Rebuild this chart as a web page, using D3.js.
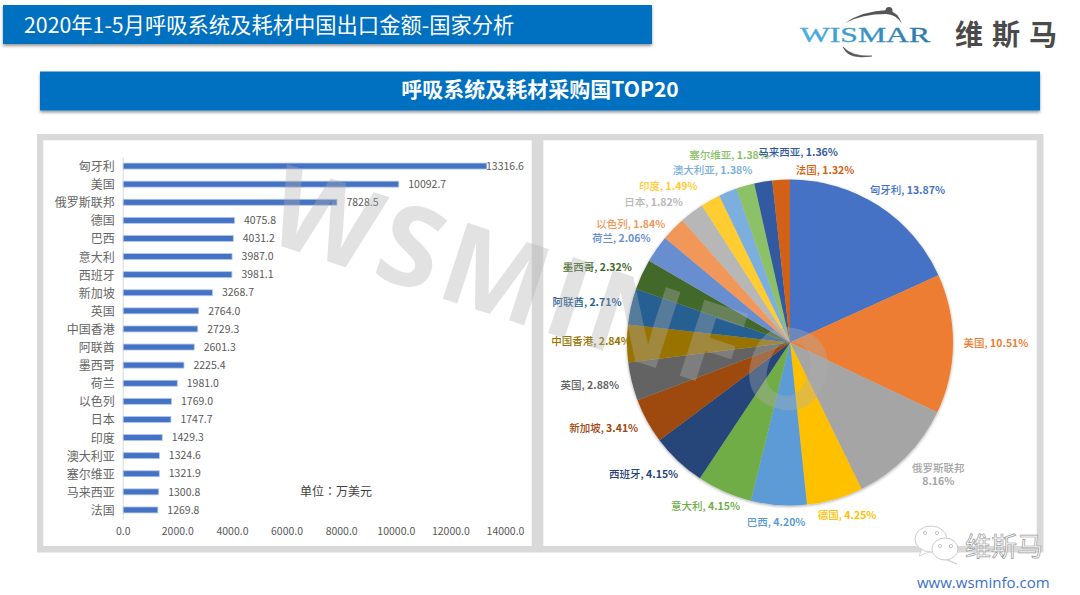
<!DOCTYPE html>
<html><head><meta charset="utf-8">
<script src="https://cdn.jsdelivr.net/npm/d3@7/dist/d3.min.js"></script>
<style>html,body{margin:0;padding:0;background:#fff;overflow:hidden}svg{display:block}text{font-family:"Noto Sans CJK SC","Noto Sans",sans-serif}</style>
</head><body><svg id="c" width="1080" height="595"></svg>
<script>
const categories = ["匈牙利","美国","俄罗斯联邦","德国","巴西","意大利","西班牙","新加坡","英国","中国香港","阿联酋","墨西哥","荷兰","以色列","日本","印度","澳大利亚","塞尔维亚","马来西亚","法国"];
const values = [13316.6,10092.7,7828.5,4075.8,4031.2,3987.0,3981.1,3268.7,2764.0,2729.3,2601.3,2225.4,1981.0,1769.0,1747.7,1429.3,1324.6,1321.9,1300.8,1269.8];
const shares = ["13.87%","10.51%","8.16%","4.25%","4.20%","4.15%","4.15%","3.41%","2.88%","2.84%","2.71%","2.32%","2.06%","1.84%","1.82%","1.49%","1.38%","1.38%","1.36%","1.32%"];
const axisTicks = [0,2000,4000,6000,8000,10000,12000,14000];
const sliceColors = ["#4472C4","#ED7D31","#A5A5A5","#FFC000","#5B9BD5","#70AD47","#264478","#9E480E","#636363","#997300","#255E91","#43682B","#698ED0","#F1975A","#B7B7B7","#FFCD33","#7CAFDD","#8CC168","#335AA1","#D26012"];
// label adjustments away from the common label radius, to follow the reference's overlap-avoided placement
const labelNudge = [[9,16],[6,-1],[6,-9],[2,-19],[0,-20],[-4,-19],[-9,-14],[-11,-10],[-6,-5],[1,-2],[-8,4],[-11,8],[-5,11],[-16,21],[-16,19],[-24,18],[-1,13],[-6,5],[41,7],[46,28]];

const svg = d3.select("#c");
const defs = svg.append("defs");
const sh = defs.append("filter").attr("id","barShadow").attr("x","-5%").attr("y","-20%").attr("width","110%").attr("height","150%");
sh.append("feDropShadow").attr("dx",0).attr("dy",2).attr("stdDeviation",1.5).attr("flood-color","#000").attr("flood-opacity",.4);
const ps = defs.append("filter").attr("id","pieShadow").attr("x","-10%").attr("y","-10%").attr("width","120%").attr("height","120%");
ps.append("feDropShadow").attr("dx",0).attr("dy",1).attr("stdDeviation",1.5).attr("flood-color","#000").attr("flood-opacity",.35);
const grad = defs.append("linearGradient").attr("id","logoGrad");
grad.append("stop").attr("offset","0%").attr("stop-color","#4BB0E0");
grad.append("stop").attr("offset","100%").attr("stop-color","#2A78A8");

// header bars
svg.append("rect").attr("x",3).attr("y",5).attr("width",649).attr("height",39).attr("fill","#0070C0").attr("filter","url(#barShadow)");
svg.append("rect").attr("x",40).attr("y",71.5).attr("width",1000).attr("height",39).attr("fill","#0070C0").attr("filter","url(#barShadow)");
svg.append("text").attr("x",24).attr("y",32.5).attr("fill","#fff").attr("font-size",21.3).text("2020年1-5月呼吸系统及耗材中国出口金额-国家分析");
svg.append("text").attr("x",540).attr("y",97).attr("text-anchor","middle").attr("fill","#fff").attr("font-size",21).attr("font-weight",700).text("呼吸系统及耗材采购国TOP20");

// logo
svg.append("text").attr("x",800).attr("y",42).attr("font-size",20).attr("textLength",130).attr("lengthAdjust","spacingAndGlyphs")
  .style("font-family","'Liberation Serif',serif").attr("stroke","url(#logoGrad)").attr("stroke-width",.3).attr("fill","url(#logoGrad)").text("WISMAR");
svg.append("path").attr("d","M845 23 Q862 11 888 10 Q898 12 902 24 Q896 14 886 14 Q862 14 845 23Z").attr("fill","#555");
svg.append("circle").attr("cx",889).attr("cy",10.5).attr("r",3.5).attr("fill","#555");
svg.append("path").attr("d","M843 47 Q848 60 872 56 Q852 57 843 47Z").attr("fill","#555").attr("stroke","#555").attr("stroke-width",.6);
svg.append("text").attr("x",955).attr("y",45).attr("font-size",28).attr("font-weight",700).attr("letter-spacing",9).attr("fill","#4a4a4a").text("维斯马");

// panels
svg.append("rect").attr("x",37).attr("y",134).attr("width",1006.5).attr("height",418.5).attr("fill","#D9D9D9");
svg.append("rect").attr("x",43.3).attr("y",140.3).attr("width",488.4).attr("height",405.7).attr("fill","#fff");
svg.append("rect").attr("x",543.3).attr("y",140.3).attr("width",493.4).attr("height",405.7).attr("fill","#fff");

// bar chart
const x = d3.scaleLinear().domain([0,14000]).range([122.7,505]);
const y = d3.scaleBand().domain(categories).range([157,519]).paddingInner(.67).paddingOuter(.335);
const labelMaxX = 486;
const gx = svg.append("g").attr("transform","translate(0,519)")
  .call(d3.axisBottom(x).tickValues(axisTicks).tickSize(0).tickPadding(9).tickFormat(d=>d.toFixed(1)));
gx.select(".domain").remove();
gx.selectAll("text").attr("font-size",10.5).attr("fill","#595959").style("font-family","'Noto Sans CJK SC'");
const gy = svg.append("g").attr("transform","translate(122.7,0)")
  .call(d3.axisLeft(y).tickSize(0).tickPadding(8));
gy.select(".domain").attr("stroke","#D9D9D9").attr("stroke-width",1);
gy.selectAll("text").attr("font-size",12).attr("dy",".42em").attr("fill","#666").style("font-family","'Noto Sans CJK SC'");
svg.append("g").selectAll("rect").data(values).join("rect")
  .attr("x",x(0)+.5).attr("y",(d,i)=>y(categories[i])).attr("height",y.bandwidth())
  .attr("width",d=>x(d)-x(0)).attr("fill","#4472C4").attr("stroke","#B4C7E7").attr("stroke-width",.8);
svg.append("g").selectAll("text").data(values).join("text")
  .attr("x",d=>Math.min(x(d)+10,labelMaxX)).attr("y",(d,i)=>y(categories[i])+y.bandwidth()/2).attr("dy",".35em")
  .attr("font-size",10.5).attr("fill","#595959").text(d=>d.toFixed(1));
svg.append("text").attr("x",336).attr("y",496).attr("text-anchor","middle").attr("font-size",12).attr("fill","#404040")
  .style("font-family","'Noto Sans CJK TC'").text("单位：万美元");

// pie
const cx = 790, cy = 342.5, R = 163, labelR = 200;
const arcs = d3.pie().sort(null)(values);
const arc = d3.arc().innerRadius(0).outerRadius(R);
const pieG = svg.append("g").attr("transform",`translate(${cx},${cy})`);
pieG.append("g").attr("filter","url(#pieShadow)").selectAll("path").data(arcs).join("path")
  .attr("d",arc).attr("fill",(d,i)=>sliceColors[i]);
const lArc = d3.arc().innerRadius(labelR).outerRadius(labelR);
const lab = pieG.append("g").selectAll("text").data(arcs).join("text")
  .attr("text-anchor","middle").attr("font-size",10.5).attr("fill",(d,i)=>sliceColors[i])
  .attr("transform",(d,i)=>{const c=lArc.centroid(d);return `translate(${c[0]+labelNudge[i][0]},${c[1]+labelNudge[i][1]})`;});
lab.each(function(d,i){
  const t=d3.select(this);
  if(categories[i]==="俄罗斯联邦"){
    t.append("tspan").attr("x",0).attr("dy","-.2em").attr("font-weight",500).text(categories[i]);
    t.append("tspan").attr("x",0).attr("dy","1.2em").attr("font-weight",700).text(shares[i]);
  } else {
    t.attr("dy",".35em");
    t.append("tspan").attr("font-weight",500).text(categories[i]+", ");
    t.append("tspan").attr("font-weight",700).text(shares[i]);
  }
});

// watermark
svg.append("text").attr("transform","translate(262,240) rotate(18)")
  .attr("font-size",112).attr("font-weight",700)
  .attr("textLength",585).attr("lengthAdjust","spacing")
  .style("font-family","'Open Sans',sans-serif").attr("fill","rgba(175,175,175,.36)").text("WSMINFO");

// WeChat mark
const bubble = (bx,by,rx,ry,tail)=>{
  svg.append("path").attr("d",`M${bx-rx*.55} ${by+ry*.7} L${bx+tail} ${by+ry+4} L${bx+rx*.1} ${by+ry*.9}Z`).attr("fill","#fff").attr("stroke","#ccc").attr("stroke-width",.8);
  svg.append("ellipse").attr("cx",bx).attr("cy",by).attr("rx",rx).attr("ry",ry).attr("fill","#fff").attr("stroke","#ccc").attr("stroke-width",1);
};
bubble(931,539,16,13,-12);
bubble(945,549,13,11,12);
[[925,533],[937,533],[940,546],[951,546]].forEach(p=>svg.append("circle").attr("cx",p[0]).attr("cy",p[1]).attr("r",1.6).attr("fill","#fff").attr("stroke","#aaa").attr("stroke-width",.7));
svg.append("text").attr("x",965).attr("y",556).attr("font-size",26).attr("fill","#fff").attr("stroke","#999").attr("stroke-width",.7).text("维斯马");

svg.append("text").attr("x",917).attr("y",587.5).attr("font-size",15).attr("fill","#3B6FC9").style("font-family","'Open Sans',sans-serif").text("www.wsminfo.com");
</script></body></html>
